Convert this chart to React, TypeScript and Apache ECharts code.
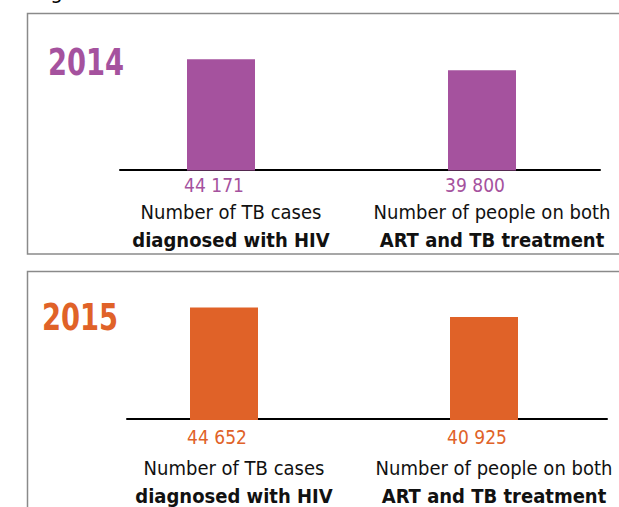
import React, { useEffect, useRef } from "react";
import * as echarts from "echarts";

// ---- data ----
const years = ["2014", "2015"];
const labelLine1 = ["Number of TB cases", "Number of people on both"];
const labelLine2 = ["diagnosed with HIV", "ART and TB treatment"];
const values2014 = [44171, 39800];
const values2015 = [44652, 40925];
const yearColors = ["#A5529E", "#E06228"];

const FONT = "'DejaVu Sans Condensed', 'Liberation Sans Narrow', sans-serif";

function fmt(n: number): string {
  return String(n).replace(/\B(?=(\d{3})+(?!\d))/g, " ");
}

// layout helpers (pixels)
const Y_MAX = 50000;
const PX_PER_UNIT = 397;
const GRID_H = Y_MAX / PX_PER_UNIT;
const LINE_W = 480;
const panels = [
  { lineLeft: 120, c1: 221, c2: 482, base: 170.5, yearX: 48, yearY: 43, valDist: 5, margin: 28, boxTop: 13.5, boxH: 240.5 },
  { lineLeft: 127, c1: 224, c2: 484, base: 420, yearX: 42, yearY: 298, valDist: 7, margin: 35, boxTop: 271.5, boxH: 300 },
];

export default function App() {
  const ref = useRef<HTMLDivElement>(null);
  useEffect(() => {
    if (!ref.current) return;
    const chart = echarts.init(ref.current, null, { renderer: "svg" });
    const seriesValues = [values2014, values2015];

    const grids: any[] = [];
    const xAxes: any[] = [];
    const yAxes: any[] = [];
    const series: any[] = [];
    const graphics: any[] = [];

    panels.forEach((p, i) => {
      const unit = p.c2 - p.c1;
      const min = 1 - (p.c1 - p.lineLeft) / unit;
      const max = min + LINE_W / unit;
      grids.push({
        left: p.lineLeft,
        width: LINE_W,
        top: p.base - GRID_H,
        height: GRID_H,
        containLabel: false,
        outerBoundsMode: "none",
      });
      xAxes.push({
        type: "value",
        gridIndex: i,
        min,
        max,
        offset: -1,
        axisLine: { show: true, onZero: false, lineStyle: { color: "#000", width: 2 } },
        axisTick: { show: false },
        splitLine: { show: false },
        axisLabel: {
          customValues: [1, 2],
          margin: p.margin,
          padding: [0, 0, 0, 20],
          hideOverlap: false,
          formatter: (v: number) => {
            const k = Math.round(v) - 1;
            return `{a|${labelLine1[k]}}\n{b|${labelLine2[k]}}`;
          },
          rich: {
            a: { fontFamily: FONT, fontSize: 20, color: "#111", lineHeight: 28 },
            b: { fontFamily: FONT, fontSize: 20, fontWeight: "bold", color: "#111", lineHeight: 28 },
          },
        },
      });
      yAxes.push({ type: "value", gridIndex: i, min: 0, max: Y_MAX, show: false });
      series.push({
        type: "bar",
        name: years[i],
        xAxisIndex: i,
        yAxisIndex: i,
        barWidth: 68,
        data: seriesValues[i].map((v, k) => [k + 1, v]),
        itemStyle: { color: yearColors[i] },
        label: {
          show: true,
          position: "bottom",
          distance: p.valDist,
          offset: [-7, 0],
          formatter: (params: any) => fmt(params.value[1]),
          color: yearColors[i],
          fontFamily: FONT,
          fontSize: 19,
        },
      });
      graphics.push({
        type: "rect",
        shape: { x: 27.5, y: p.boxTop, width: 700, height: p.boxH },
        style: { fill: "none", stroke: "#8a8a8a", lineWidth: 1.5 },
        z: -1,
      });
      graphics.push({
        type: "text",
        x: p.yearX,
        y: p.yearY,
        scaleX: 0.8,
        style: {
          text: years[i],
          fill: yearColors[i],
          font: `bold 38px ${FONT}`,
        },
      });
    });

    graphics.push({
      type: "text",
      x: 35,
      y: -20,
      style: { text: "Figure", fill: "#000", font: `22px ${FONT}` },
    });

    chart.setOption({
      animation: false,
      backgroundColor: "#fff",
      grid: grids,
      xAxis: xAxes,
      yAxis: yAxes,
      series,
      graphic: graphics,
    });
    return () => chart.dispose();
  }, []);
  return (
    <div
      ref={ref}
      style={{ position: "absolute", left: 0, top: 0, width: 619, height: 507 }}
    />
  );
}
